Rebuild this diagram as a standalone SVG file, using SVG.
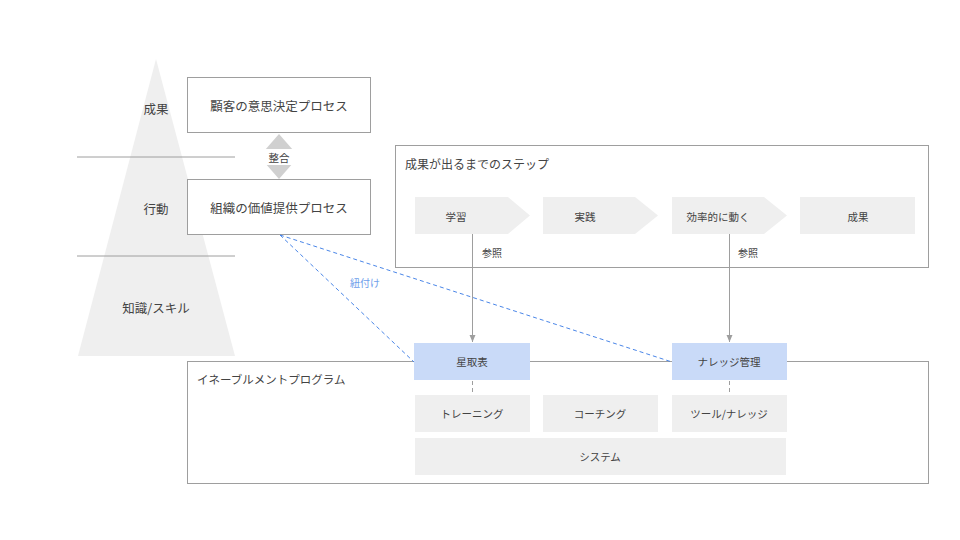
<svg xmlns="http://www.w3.org/2000/svg" width="960" height="540" viewBox="0 0 960 540">
<defs>
<style>
text{font-family:"Noto Sans CJK JP","Liberation Sans",sans-serif;fill:#434343;}
.c{text-anchor:middle;dominant-baseline:central;}
.box{fill:#ffffff;stroke:#9e9e9e;stroke-width:1;}
.gray{fill:#efefef;}
.blue{fill:#c9daf8;}
.ln{stroke:#9e9e9e;stroke-width:1;fill:none;}
.dash{stroke:#9e9e9e;stroke-width:1;stroke-dasharray:4 3;fill:none;}
.bdash{stroke:#4a86e8;stroke-width:1;stroke-dasharray:4 3;fill:none;}
</style>
<marker id="ah" markerWidth="8" markerHeight="8" refX="7" refY="4" orient="auto" markerUnits="userSpaceOnUse">
<path d="M0,1 L7,4 L0,7 Z" fill="#9e9e9e"/>
</marker>
</defs>
<rect width="960" height="540" fill="#ffffff"/>

<g id="pyramid">
<polygon points="156,59 235,356 78,356" class="gray"/>
<line x1="77" y1="157" x2="235" y2="157" class="ln"/>
<line x1="77" y1="256" x2="235" y2="256" class="ln"/>
<text x="156" y="108" class="c" font-size="12.5">成果</text>
<text x="156" y="208" class="c" font-size="12.5">行動</text>
<text x="156" y="307" class="c" font-size="12.5">知識/スキル</text>
</g>

<g id="customer">
<rect x="187.5" y="77.5" width="183" height="55" class="box"/>
<text x="279" y="105" class="c" font-size="12.5">顧客の意思決定プロセス</text>
</g>

<g id="org">
<rect x="187.5" y="179.5" width="183" height="55" class="box"/>
<text x="279" y="207" class="c" font-size="12.5">組織の価値提供プロセス</text>
</g>

<g id="align">
<polygon points="279,134 293,150 287,150 287,163 293,163 279,179 265,163 272,163 272,150 265,150" fill="#d0d0d0"/>
<rect x="265" y="149" width="28" height="16" fill="#ffffff"/>
<text x="279" y="157" class="c" font-size="10.5">整合</text>
</g>

<g id="steps">
<rect x="395.5" y="145.5" width="533" height="122" class="box"/>
<text x="405" y="163" font-size="12" dominant-baseline="central">成果が出るまでのステップ</text>
</g>

<g id="step1">
<polygon points="415,197 508,197 530,215.5 508,234 415,234" class="gray"/>
<text x="456" y="216" class="c" font-size="10.5">学習</text>
</g>
<g id="step2">
<polygon points="543,197 635,197 658,215.5 635,234 543,234" class="gray"/>
<text x="585" y="216" class="c" font-size="10.5">実践</text>
</g>
<g id="step3">
<polygon points="672,197 764,197 787,215.5 764,234 672,234" class="gray"/>
<text x="718" y="216" class="c" font-size="10.5">効率的に動く</text>
</g>
<g id="step4">
<rect x="800" y="197" width="115" height="37" class="gray"/>
<text x="858" y="216" class="c" font-size="10.5">成果</text>
</g>

<g id="enablement">
<rect x="187.5" y="361.5" width="741" height="122" class="box"/>
<text x="197" y="379" font-size="11.5" dominant-baseline="central">イネーブルメントプログラム</text>
</g>

<g id="hoshitori">
<rect x="414" y="343" width="116" height="37" class="blue"/>
<text x="472" y="361.5" class="c" font-size="10.5">星取表</text>
</g>
<g id="knowledge">
<rect x="672" y="343" width="115" height="37" class="blue"/>
<text x="729" y="361.5" class="c" font-size="10.5">ナレッジ管理</text>
</g>
<g id="training">
<rect x="415" y="395" width="115" height="37" class="gray"/>
<text x="472" y="413.5" class="c" font-size="10.5">トレーニング</text>
</g>
<g id="coaching">
<rect x="543" y="395" width="115" height="37" class="gray"/>
<text x="600" y="413.5" class="c" font-size="10.5">コーチング</text>
</g>
<g id="tools">
<rect x="672" y="395" width="115" height="37" class="gray"/>
<text x="729" y="413.5" class="c" font-size="10.5">ツール/ナレッジ</text>
</g>
<g id="system">
<rect x="415" y="438" width="371" height="37" class="gray"/>
<text x="600" y="456.5" class="c" font-size="10.5">システム</text>
</g>

<g id="connectors">
<line x1="472.5" y1="234" x2="472.5" y2="342" class="ln" marker-end="url(#ah)"/>
<line x1="729.5" y1="234" x2="729.5" y2="342" class="ln" marker-end="url(#ah)"/>
<text x="482" y="252" font-size="10" dominant-baseline="central">参照</text>
<text x="738" y="252" font-size="10" dominant-baseline="central">参照</text>
<line x1="472.5" y1="381" x2="472.5" y2="395" class="dash"/>
<line x1="729.5" y1="381" x2="729.5" y2="395" class="dash"/>
<line x1="280" y1="235" x2="414" y2="362" class="bdash"/>
<line x1="280" y1="235" x2="672" y2="362" class="bdash"/>
<text x="365" y="282" class="c" font-size="10" style="fill:#6d9eeb">紐付け</text>
</g>
</svg>
